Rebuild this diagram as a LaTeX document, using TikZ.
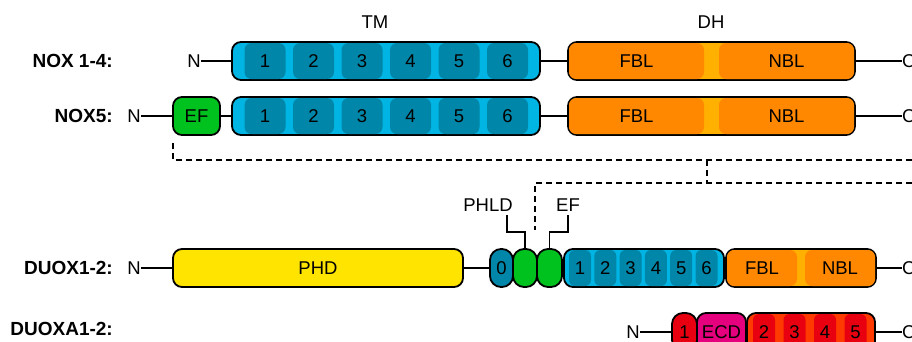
\documentclass[tikz,border=0pt]{standalone}
\usepackage{fontspec}
\setmainfont{Liberation Sans}
\definecolor{tmlight}{RGB}{0,181,228}
\definecolor{tmdark}{RGB}{0,134,168}
\definecolor{orng}{RGB}{255,136,0}
\definecolor{orgap}{RGB}{255,176,0}
\definecolor{grn}{RGB}{0,194,30}
\definecolor{yel}{RGB}{255,228,0}
\definecolor{redlight}{RGB}{255,58,0}
\definecolor{reddark}{RGB}{232,0,16}
\definecolor{mag}{RGB}{229,0,125}
\begin{document}
\begin{tikzpicture}[x=1pt,y=-1pt,
  every node/.style={font=\fontsize{18.5}{21}\selectfont},
  rowlab/.style={anchor=east, inner sep=0pt, font=\fontsize{19}{22}\selectfont\bfseries},
  term/.style={inner sep=0pt},
  boxn/.style={rectangle, draw=black, line width=1.8pt, rounded corners=9pt, minimum height=38pt, inner sep=0pt, outer sep=0pt},
  oval/.style={boxn, rounded corners=11pt},
  seg/.style={rectangle, rounded corners=7pt, minimum height=36pt, inner sep=0pt},
  conn/.style={line width=1.6pt},
  dashln/.style={line width=1.7pt, dash pattern=on 6pt off 4pt},
  lead/.style={line width=1.6pt}
]
\useasboundingbox (0,0) rectangle (912,341);

% headers
\node (hTM) at (375,22) {TM};
\node (hDH) at (711,22) {DH};

% ---------- Row 1: NOX 1-4 ----------
\node[rowlab] (lab1) at (113,61) {NOX 1-4:};
\node[term, anchor=east] (n1) at (201,61) {N};
\node[boxn, fill=tmlight, minimum width=308pt] (tm1) at (386,61) {};
\foreach \x/\t in {265/1,313.5/2,362/3,410.5/4,459/5,507.5/6}
  \node[seg, fill=tmdark, minimum width=41pt] (tm1-\t) at (\x,61) {\t};
\node[boxn, fill=orgap, minimum width=287pt] (dh1) at (711.5,61) {};
\node[seg, fill=orng, minimum width=135pt] (fbl1) at (636.5,61) {FBL};
\node[seg, fill=orng, minimum width=135pt] (nbl1) at (786.5,61) {NBL};
\node[term, anchor=west] (c1) at (902,61) {C};
\draw[conn] (n1) -- (tm1);
\draw[conn] (tm1) -- (dh1);
\draw[conn] (dh1) -- (c1);

% ---------- Row 2: NOX5 ----------
\node[rowlab] (lab2) at (113,116) {NOX5:};
\node[term, anchor=east] (n2) at (141,116) {N};
\node[boxn, fill=grn, minimum width=47pt] (ef2) at (196.5,116) {EF};
\node[boxn, fill=tmlight, minimum width=308pt] (tm2) at (386,116) {};
\foreach \x/\t in {265/1,313.5/2,362/3,410.5/4,459/5,507.5/6}
  \node[seg, fill=tmdark, minimum width=41pt] (tm2-\t) at (\x,116) {\t};
\node[boxn, fill=orgap, minimum width=287pt] (dh2) at (711.5,116) {};
\node[seg, fill=orng, minimum width=135pt] (fbl2) at (636.5,116) {FBL};
\node[seg, fill=orng, minimum width=135pt] (nbl2) at (786.5,116) {NBL};
\node[term, anchor=west] (c2) at (902,116) {C};
\draw[conn] (n2) -- (ef2);
\draw[conn] (ef2) -- (tm2);
\draw[conn] (tm2) -- (dh2);
\draw[conn] (dh2) -- (c2);

% ---------- dashed brackets ----------
\coordinate (dA) at (173,143);
\coordinate (dB) at (912,160);
\coordinate (dC) at (707,160);
\coordinate (dD) at (707,183);
\coordinate (dE) at (912,183);
\coordinate (dF) at (535,230);
\draw[dashln] (dA) |- (dB);
\draw[dashln] (dC) -- (dD);
\draw[dashln] (dE) -| (dF);

% ---------- Row 3: DUOX1-2 ----------
\node[rowlab] (lab3) at (113,268) {DUOX1-2:};
\node[term, anchor=east] (n3) at (141,268) {N};
\node[boxn, fill=yel, minimum width=290pt] (phd) at (318,268) {PHD};
\node[oval, fill=tmdark, minimum width=23pt] (zero) at (501.5,268) {0};
\node[oval, fill=grn, minimum width=24pt] (g1) at (525,268) {};
\node[oval, fill=grn, minimum width=25pt] (g2) at (549.5,268) {};
\node[boxn, fill=tmlight, minimum width=160pt] (tm3) at (644,268) {};
\foreach \x/\t in {580/1,605.3/2,630.6/3,655.9/4,681.2/5,706.5/6}
  \node[seg, fill=tmdark, minimum width=22pt, rounded corners=6pt] (tm3-\t) at (\x,268) {\t};
\node[boxn, fill=orgap, minimum width=150pt] (dh3) at (801,268) {};
\node[seg, fill=orng, minimum width=70pt] (fbl3) at (762,268) {FBL};
\node[seg, fill=orng, minimum width=70pt] (nbl3) at (840,268) {NBL};
\node[term, anchor=west] (c3) at (902,268) {C};
\draw[conn] (n3) -- (phd);
\draw[conn] (phd) -- (zero);
\draw[conn] (dh3) -- (c3);

\node (phld) at (488,205) {PHLD};
\node (efl) at (568,205) {EF};
\draw[lead] (g1.north) -- ++(0,-17) -| ([xshift=19pt]phld.south);
\draw[lead] (g2.north) -- ++(0,-17) -| (efl.south);

% ---------- Row 4: DUOXA1-2 ----------
\node[rowlab] (lab4) at (113,329) {DUOXA1-2:};
\node[term, anchor=east] (n4) at (640,332) {N};
\node[oval, fill=reddark, minimum width=25pt] (r1) at (684.5,332) {1};
\node[boxn, fill=mag, minimum width=49pt] (ecd) at (721.5,332) {ECD};
\node[boxn, fill=redlight, minimum width=128pt] (tm4) at (811,332) {};
\foreach \x/\t in {764/2,794.5/3,825/4,855.5/5}
  \node[seg, fill=reddark, minimum width=22pt, rounded corners=6pt] (tm4-\t) at (\x,332) {\t};
\node[term, anchor=west] (c4) at (902,332) {C};
\draw[conn] (n4) -- (r1);
\draw[conn] (tm4) -- (c4);
\end{tikzpicture}
\end{document}
